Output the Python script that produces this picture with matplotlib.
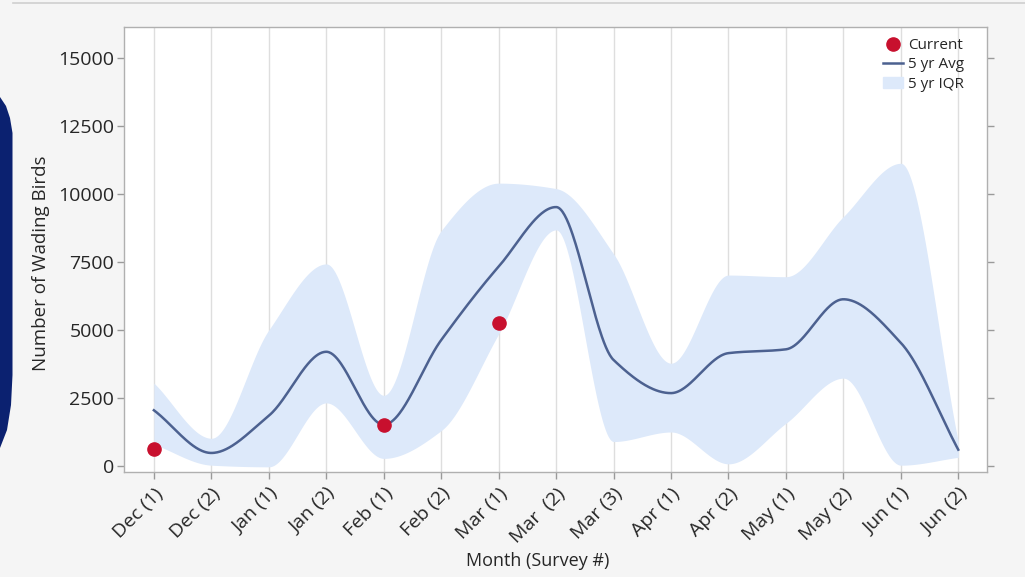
import numpy as np
import matplotlib
matplotlib.use("Agg")
import matplotlib.pyplot as plt
from matplotlib.patches import Polygon
from matplotlib.lines import Line2D

# ---------------- data ----------------
labels = ["Dec (1)", "Dec (2)", "Jan (1)", "Jan (2)", "Feb (1)", "Feb (2)",
          "Mar (1)", "Mar  (2)", "Mar (3)", "Apr (1)", "Apr (2)", "May (1)",
          "May (2)", "Jun (1)", "Jun (2)"]
avg_5yr = [2050, 480, 1850, 4200, 1520, 4630, 7330, 9520, 3900, 2680,
           4150, 4290, 6130, 4530, 600]
iqr_high = [3050, 1020, 5000, 7430, 2600, 8650, 10400, 10200, 7800, 3780,
            7020, 6960, 9170, 11130, 900]
iqr_low = [800, 30, -30, 2320, 280, 1300, 4850, 8680, 900, 1250,
           80, 1570, 3230, 30, 320]
current_idx = [0, 4, 6]
current_val = [610, 1500, 5270]
yticks = [0, 2500, 5000, 7500, 10000, 12500, 15000]


def hermite(x, y, m, xs):
    x = np.asarray(x, float); y = np.asarray(y, float)
    idx = np.clip(np.searchsorted(x, xs) - 1, 0, len(x) - 2)
    h = x[idx + 1] - x[idx]
    t = (xs - x[idx]) / h
    h00 = 2 * t**3 - 3 * t**2 + 1
    h10 = t**3 - 2 * t**2 + t
    h01 = -2 * t**3 + 3 * t**2
    h11 = t**3 - t**2
    return h00 * y[idx] + h10 * h * m[idx] + h01 * y[idx + 1] + h11 * h * m[idx + 1]


def pchip(x, y, xs):
    x = np.asarray(x, float); y = np.asarray(y, float)
    h = np.diff(x); d = np.diff(y) / h
    m = np.zeros(len(x))
    for k in range(1, len(x) - 1):
        if d[k - 1] * d[k] <= 0:
            m[k] = 0
        else:
            w1 = 2 * h[k] + h[k - 1]; w2 = h[k] + 2 * h[k - 1]
            m[k] = (w1 + w2) / (w1 / d[k - 1] + w2 / d[k])
    m[0] = d[0]; m[-1] = d[-1]
    return hermite(x, y, m, xs)


plt.rcParams['font.family'] = ['Open Sans', 'DejaVu Sans']

fig = plt.figure(figsize=(10.25, 5.77), dpi=100)
fig.patch.set_facecolor('#f5f5f5')
ax = fig.add_axes([124 / 1025, 1 - 472 / 577, (987 - 124) / 1025, (472 - 27) / 577])
ax.set_facecolor('white')

x = np.arange(len(labels))
xs = np.linspace(0, len(labels) - 1, 800)

band_color = '#dde9fa'
line_color = '#4c6190'
dot_color = '#c8102e'
text_color = '#262626'

ax.fill_between(xs, pchip(x, iqr_low, xs), pchip(x, iqr_high, xs),
                color=band_color, lw=0, zorder=2)
ax.plot(xs, pchip(x, avg_5yr, xs), color=line_color, lw=1.8, zorder=3)
ax.plot(current_idx, current_val, 'o', color=dot_color, ms=9.5, zorder=4)

ax.set_xlim(-0.52, len(labels) - 0.5)
ax.set_ylim(-220, 16140)
ax.set_xticks(x)
ax.set_xticklabels(labels, rotation=45, ha='right', rotation_mode='anchor',
                   fontsize=14, color=text_color)
ax.set_yticks(yticks)
ax.set_yticklabels([str(v) for v in yticks], fontsize=14, color=text_color)
ax.xaxis.grid(True, color='#dedede', lw=1, zorder=1)
ax.set_axisbelow(True)
ax.tick_params(axis='both', color='#9a9a9a', length=5, width=1)
ax.tick_params(axis='y', right=True, pad=2)
ax.tick_params(axis='x', pad=4)
for s in ax.spines.values():
    s.set_color('#b0b0b0')
    s.set_linewidth(1)

ax.set_ylabel('Number of Wading Birds', fontsize=13.5, color=text_color)
ax.yaxis.set_label_coords((50 - 124) / 863, (472 - 263) / 445)
ax.set_xlabel('Month (Survey #)', fontsize=13, color=text_color)
ax.xaxis.set_label_coords((538 - 124) / 863, (472 - 552) / 445)

handles = [
    Line2D([], [], marker='o', color=dot_color, ls='none', ms=9.5),
    Line2D([], [], color=line_color, lw=1.8),
    plt.Rectangle((0, 0), 1, 1, color=band_color),
]
leg = ax.legend(handles, ['Current', '5 yr Avg', '5 yr IQR'], loc='upper right',
                bbox_to_anchor=(964 / 1025, 1 - 38 / 577), bbox_transform=fig.transFigure,
                frameon=False, fontsize=11, handlelength=1.3, handletextpad=0.3,
                labelspacing=0.28, borderaxespad=0.0, borderpad=0.0)
for t in leg.get_texts():
    t.set_color(text_color)

# decorative elements of the captured slide
pts = [(0, 97), (6, 106), (10, 118), (12.5, 133), (12.5, 375), (11, 405), (7, 430), (0, 448)]
fig.patches.append(Polygon([(px / 1025, 1 - py / 577) for px, py in pts], closed=True,
                           transform=fig.transFigure, facecolor='#0b2170', edgecolor='none'))
fig.add_artist(Line2D([13 / 1025, 1], [1 - 3 / 577, 1 - 3 / 577], transform=fig.transFigure,
                      color='#cfcfcf', lw=1.2))

fig.savefig('out.png', dpi=100, facecolor=fig.get_facecolor())
